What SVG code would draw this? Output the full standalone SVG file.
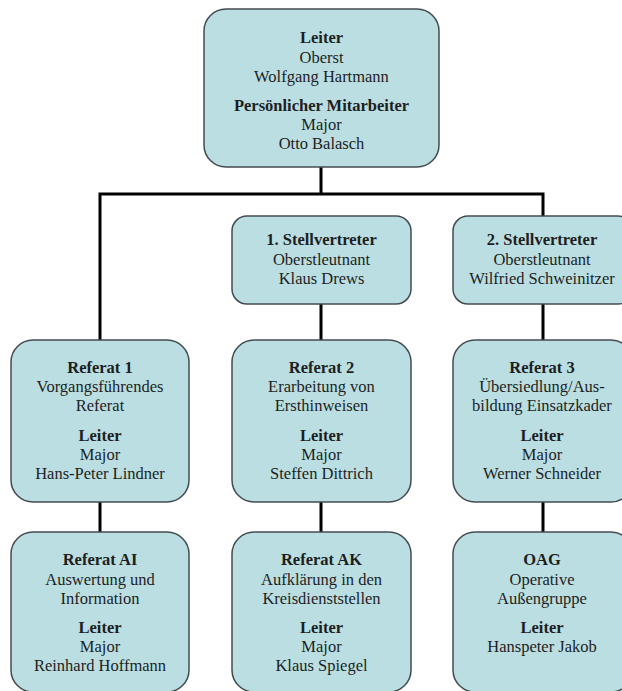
<svg xmlns="http://www.w3.org/2000/svg" width="622" height="691" viewBox="0 0 622 691">
<style>
.box{fill:#badee2;stroke:#434c50;stroke-width:1.5}
text{font-size:16.5px;fill:#1e1e1e;text-anchor:middle}
.b{font-weight:bold}
.con{fill:none;stroke:#000;stroke-width:3}
</style>
<rect width="622" height="691" fill="#fff"/>
<g id="connectors" class="con">
<path d="M321,167V194M100,340V194H543V216"/>
<path d="M321,304V340M543,304V340"/>
<path d="M100,502V532M321,502V532M543,502V532"/>
</g>
<g font-family="Liberation Serif, Tinos, Times New Roman, DejaVu Serif, serif">
<g id="leiter">
<rect class="box" x="204" y="9" width="235" height="158" rx="22"/>
<text x="321.5" y="43" class="b">Leiter</text>
<text x="321.5" y="62.5">Oberst</text>
<text x="321.5" y="81.5">Wolfgang Hartmann</text>
<text x="321.5" y="111" class="b">Persönlicher Mitarbeiter</text>
<text x="321.5" y="130">Major</text>
<text x="321.5" y="149">Otto Balasch</text>
</g>
<g id="stellv1">
<rect class="box" x="232" y="216" width="179" height="88" rx="15"/>
<text x="321.5" y="245" class="b">1. Stellvertreter</text>
<text x="321.5" y="265">Oberstleutnant</text>
<text x="321.5" y="284">Klaus Drews</text>
</g>
<g id="stellv2">
<rect class="box" x="453" y="216" width="180" height="88" rx="15"/>
<text x="542" y="245" class="b">2. Stellvertreter</text>
<text x="542" y="265">Oberstleutnant</text>
<text x="542" y="284">Wilfried Schweinitzer</text>
</g>
<g id="referat1">
<rect class="box" x="11" y="340" width="178" height="162" rx="22"/>
<text x="100" y="373" class="b">Referat 1</text>
<text x="100" y="392">Vorgangsführendes</text>
<text x="100" y="411">Referat</text>
<text x="100" y="441" class="b">Leiter</text>
<text x="100" y="460">Major</text>
<text x="100" y="479">Hans-Peter Lindner</text>
</g>
<g id="referat2">
<rect class="box" x="232" y="340" width="179" height="162" rx="22"/>
<text x="321.5" y="373" class="b">Referat 2</text>
<text x="321.5" y="392">Erarbeitung von</text>
<text x="321.5" y="411">Ersthinweisen</text>
<text x="321.5" y="441" class="b">Leiter</text>
<text x="321.5" y="460">Major</text>
<text x="321.5" y="479">Steffen Dittrich</text>
</g>
<g id="referat3">
<rect class="box" x="453" y="340" width="180" height="162" rx="22"/>
<text x="542" y="373" class="b">Referat 3</text>
<text x="542" y="392">Übersiedlung/Aus-</text>
<text x="542" y="411">bildung Einsatzkader</text>
<text x="542" y="441" class="b">Leiter</text>
<text x="542" y="460">Major</text>
<text x="542" y="479">Werner Schneider</text>
</g>
<g id="referatAI">
<rect class="box" x="11" y="532" width="178" height="160" rx="22"/>
<text x="100" y="565" class="b">Referat AI</text>
<text x="100" y="585">Auswertung und</text>
<text x="100" y="604">Information</text>
<text x="100" y="633" class="b">Leiter</text>
<text x="100" y="652">Major</text>
<text x="100" y="671">Reinhard Hoffmann</text>
</g>
<g id="referatAK">
<rect class="box" x="232" y="532" width="179" height="160" rx="22"/>
<text x="321.5" y="565" class="b">Referat AK</text>
<text x="321.5" y="585">Aufklärung in den</text>
<text x="321.5" y="604">Kreisdienststellen</text>
<text x="321.5" y="633" class="b">Leiter</text>
<text x="321.5" y="652">Major</text>
<text x="321.5" y="671">Klaus Spiegel</text>
</g>
<g id="oag">
<rect class="box" x="453" y="532" width="180" height="160" rx="22"/>
<text x="542" y="565" class="b">OAG</text>
<text x="542" y="585">Operative</text>
<text x="542" y="604">Außengruppe</text>
<text x="542" y="633" class="b">Leiter</text>
<text x="542" y="652">Hanspeter Jakob</text>
</g>
</g>
</svg>
